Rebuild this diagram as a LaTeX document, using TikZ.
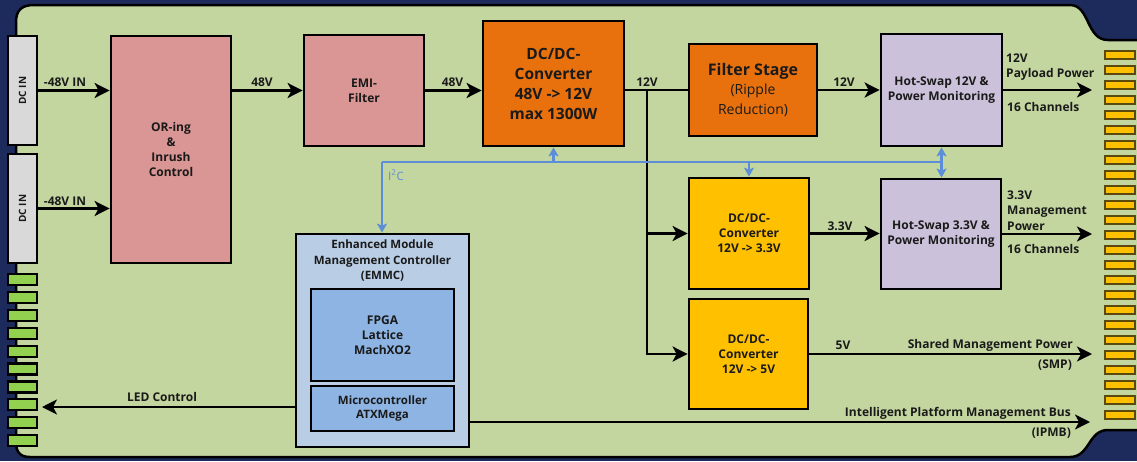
\documentclass[tikz,border=0pt]{standalone}
\usepackage{fontspec}
\usepackage{graphicx}
\setmainfont{Open Sans}
\usetikzlibrary{arrows.meta}
\definecolor{bgblue}{HTML}{1D2A5C}
\definecolor{boardgreen}{HTML}{C4D6A0}
\definecolor{pinkbox}{HTML}{D99694}
\definecolor{orangebox}{HTML}{E8710E}
\definecolor{goldbox}{HTML}{FFC000}
\definecolor{lavbox}{HTML}{CCC1DA}
\definecolor{emmcbox}{HTML}{B9CDE4}
\definecolor{chipbox}{HTML}{8DB4E2}
\definecolor{i2cblue}{HTML}{5B8ED6}
\definecolor{dcgrey}{HTML}{D9D9D9}
\definecolor{pingreen}{HTML}{92D050}
\definecolor{txt}{HTML}{1A1A1A}
\definecolor{fingeredge}{HTML}{5A4A10}
\begin{document}
\begin{tikzpicture}[x=1pt,y=-1pt,
  font=\fontsize{12}{15}\selectfont\bfseries,
  blk/.style={draw=black,line width=2.8pt,inner sep=2pt,align=center,text=txt},
  lbl/.style={inner sep=0pt,text=txt},
  arr/.style={line width=2.6pt,-{Stealth[length=15pt,width=15pt,inset=4pt]}},
  wire/.style={line width=2.6pt},
  bus/.style={draw=i2cblue,line width=2.2pt},
  busarr/.style={bus,-{Stealth[length=9pt,width=10pt,inset=2pt]}},
  busdbl/.style={bus,{Stealth[length=9pt,width=10pt,inset=2pt]}-{Stealth[length=9pt,width=10pt,inset=2pt]}}]
\useasboundingbox (0,0) rectangle (1137,461);
\fill[bgblue] (0,0) rectangle (1137,461);
% board
\draw[fill=boardgreen,line width=2.5pt] (16,22) .. controls (16,10) and (22,5) .. (34,5) -- (1070,5)
  .. controls (1090,5) and (1086,40) .. (1108,40) -- (1145,40) -- (1145,430) -- (1108,430)
  .. controls (1088,430) and (1090,457) .. (1070,457) -- (30,457)
  .. controls (20,457) and (16,452) .. (16,442) -- cycle;
% left pins
\foreach \i in {0,...,9}
  \draw[fill=pingreen,line width=2.2pt] (8,274+17.9*\i) rectangle (37,285+17.9*\i);
% right gold fingers
\foreach \i in {0,...,24}
  \draw[fill=goldbox,draw=fingeredge,line width=1.3pt] (1105,51+15*\i) rectangle (1135,59+15*\i);
% DC IN connectors
\node[blk,fill=dcgrey,line width=2.5pt,minimum width=29pt,minimum height=109pt,inner sep=0pt,font=\fontsize{10}{12}\selectfont\bfseries] (dcin1) at (22.5,90.5) {\rotatebox{90}{DC IN}};
\node[blk,fill=dcgrey,line width=2.5pt,minimum width=29pt,minimum height=109pt,inner sep=0pt,font=\fontsize{10}{12}\selectfont\bfseries] (dcin2) at (22.5,208.5) {\rotatebox{90}{DC IN}};
% blocks
\node[blk,fill=pinkbox,minimum width=120pt,minimum height=227pt] (or) at (171,149.5) {OR-ing\\\&\\Inrush\\Control};
\node[blk,fill=pinkbox,minimum width=120pt,minimum height=111pt] (emi) at (364,90.5) {EMI-\\Filter};
\node[blk,fill=orangebox,minimum width=141pt,minimum height=125pt,font=\fontsize{15.5}{20}\selectfont\bfseries] (dc48) at (553.5,83.5) {DC/DC-\\Converter\\48V -> 12V\\max 1300W};
\node[blk,fill=orangebox,minimum width=128pt,minimum height=92pt,font=\fontsize{14}{19.5}\selectfont\mdseries] (filt) at (753,90) {{\fontsize{16}{19.5}\selectfont\bfseries Filter Stage}\\(Ripple\\Reduction)};
\node[blk,fill=lavbox,minimum width=121pt,minimum height=112pt] (hs12) at (941.5,90) {Hot-Swap 12V \&\\Power Monitoring};
\node[blk,fill=goldbox,minimum width=120pt,minimum height=111pt] (dc33) at (749,233.5) {DC/DC-\\Converter\\12V -> 3.3V};
\node[blk,fill=lavbox,minimum width=120pt,minimum height=110pt] (hs33) at (941,234) {Hot-Swap 3.3V \&\\Power Monitoring};
\node[blk,fill=goldbox,minimum width=119pt,minimum height=110pt] (dc5) at (748.5,354) {DC/DC-\\Converter\\12V -> 5V};
\node[blk,fill=emmcbox,minimum width=173pt,minimum height=213pt] (emmc) at (382.5,340.5) {};
\node[lbl,align=center,anchor=north,font=\fontsize{11.5}{15.5}\selectfont\bfseries] (emmct) at (382.5,240) {Enhanced Module\\Management Controller\\(EMMC)};
\node[blk,fill=chipbox,minimum width=143pt,minimum height=92pt] (fpga) at (382.5,335) {FPGA\\Lattice\\MachXO2};
\node[blk,fill=chipbox,minimum width=143pt,minimum height=45pt,font=\fontsize{11.5}{14}\selectfont\bfseries] (mcu) at (382.5,408.5) {Microcontroller\\ATXMega};
% free ends
\coordinate (j1) at (647,90);
\coordinate (out1) at (1092,90);
\coordinate (out2) at (1092,234);
\coordinate (out3) at (1092,354);
\coordinate (out4) at (1090,422);
\coordinate (led) at (42,407);
\coordinate (i2cL) at (382,162);
% power connectors
\draw[arr] (dcin1.east) -- (dcin1.east -| or.west);
\draw[arr] (dcin2.east) -- (dcin2.east -| or.west);
\draw[arr] (or.east |- emi.west) -- (emi.west);
\draw[arr] (emi.east) -- (emi.east -| dc48.west);
\draw[wire] (dc48.east |- filt.west) -- (filt.west);
\draw[arr] (j1) |- (dc5.west);
\draw[arr] (j1 |- dc33.west) -- (dc33.west);
\draw[arr] (filt.east) -- (filt.east -| hs12.west);
\draw[arr] (dc33.east) -- (dc33.east -| hs33.west);
\draw[arr] (hs12.east |- out1) -- (out1);
\draw[arr] (hs33.east |- out2) -- (out2);
\draw[arr] (dc5.east |- out3) -- (out3);
\draw[arr] (emmc.east |- out4) -- (out4);
\draw[arr] (emmc.west |- led) -- (led);
% I2C bus
\draw[bus] (i2cL) -- (i2cL -| hs12.south);
\draw[busarr] (i2cL) -- (i2cL |- emmc.north);
\draw[busarr] (dc48.south |- i2cL) -- (dc48.south);
\draw[busarr] (dc33.north |- i2cL) -- (dc33.north);
\draw[busdbl] (hs12.south) -- (hs12.south |- hs33.north);
% labels
\node[lbl] (l1) at (65,82) {-48V IN};
\node[lbl] (l2) at (65,201) {-48V IN};
\node[lbl] (l3) at (262,82) {48V};
\node[lbl] (l4) at (452.5,82) {48V};
\node[lbl] (l5) at (647,82) {12V};
\node[lbl] (l6) at (844,82) {12V};
\node[lbl] (l7) at (840,226) {3.3V};
\node[lbl] (l8) at (843,345) {5V};
\node[lbl,align=left,anchor=west] (l9) at (1006,67.5) {12V\\Payload Power};
\node[lbl,anchor=west] (l10) at (1007,107) {16 Channels};
\node[lbl,align=left,anchor=west,font=\fontsize{12}{15.5}\selectfont\bfseries] (l11) at (1007,210.5) {3.3V\\Management\\Power};
\node[lbl,anchor=west] (l12) at (1007,249) {16 Channels};
\node[lbl,anchor=east] (l13) at (1073,345) {Shared Management Power};
\node[lbl,anchor=east] (l14) at (1072,365) {(SMP)};
\node[lbl,anchor=east] (l15) at (1071,413) {Intelligent Platform Management Bus};
\node[lbl,anchor=east] (l16) at (1071,433) {(IPMB)};
\node[lbl] (l17) at (162,397) {LED Control};
\node[lbl,anchor=west,text=i2cblue,font=\fontsize{11.5}{14}\selectfont] (l18) at (388,175) {I\textsuperscript{2}C};
\end{tikzpicture}
\end{document}
